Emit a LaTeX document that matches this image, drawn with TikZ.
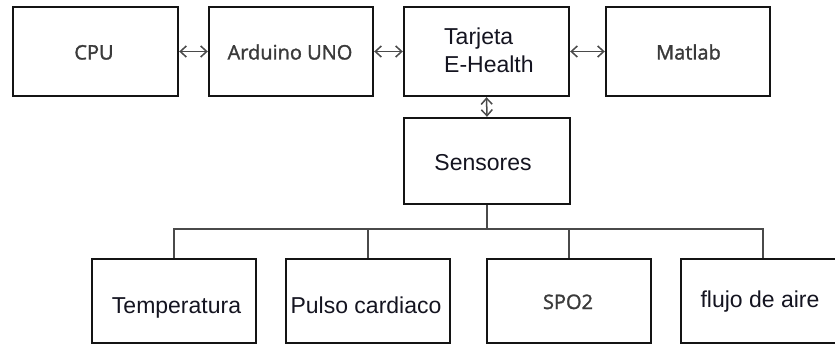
\documentclass[tikz,border=0pt]{standalone}
\usepackage{fontspec}
\setmainfont{Liberation Sans}
\newfontfamily\osans{Open Sans}[FakeBold=1.5]
\usetikzlibrary{arrows.meta}
\definecolor{boxline}{HTML}{141414}
\definecolor{conline}{HTML}{4A4A4A}
\definecolor{graytxt}{HTML}{3A3A3A}
\definecolor{darktxt}{HTML}{141420}
\begin{document}
\begin{tikzpicture}[x=1pt,y=-1pt,
  blk/.style={draw=boxline,line width=2.4pt,fill=white,inner sep=0pt,minimum width=164pt,minimum height=89pt},
  lowblk/.style={blk,minimum height=84pt},
  gtxt/.style={anchor=base,inner sep=0pt,text=graytxt,font=\osans\fontsize{20}{24}\selectfont},
  atxt/.style={anchor=base,inner sep=0pt,text=darktxt,font=\fontsize{23}{27}\selectfont},
  con/.style={draw=conline,line width=1.5pt},
  biarrow/.style={con,{Straight Barb[length=6pt,width=11pt,line width=1.5pt]}-{Straight Barb[length=6pt,width=11pt,line width=1.5pt]}}]
\useasboundingbox (0,0) rectangle (835,345);
% top row
\node[blk,minimum width=165pt] (cpu) at (95.5,51.5) {};
\node[blk] (ard) at (291,51.5) {};
\node[blk,minimum width=165pt] (tar) at (486.5,51.5) {};
\node[blk] (mat) at (688,51.5) {};
\node[blk,minimum width=166pt,minimum height=86pt] (sen) at (487,161) {};
% bottom row
\node[lowblk] (tem) at (174,301) {};
\node[lowblk] (pul) at (368,301) {};
\node[lowblk] (spo) at (569,301) {};
\node[lowblk] (flu) at (763,301) {};
% texts
\node[gtxt] (tcpu) at (94,59.5) {CPU};
\node[gtxt] (tard) at (290,59.5) {Arduino UNO};
\node[gtxt] (tmat) at (688.5,59.5) {Matlab};
\node[atxt,anchor=base west] (ttar1) at (444,45) {Tarjeta};
\node[atxt,anchor=base west] (ttar2) at (444,72) {E-Health};
\node[atxt] (tsen) at (483,170) {Sensores};
\node[atxt] (ttem) at (176.5,313) {Temperatura};
\node[atxt] (tpul) at (366,313) {Pulso cardiaco};
\node[gtxt] (tspo) at (568,309) {SPO2};
\node[atxt] (tflu) at (760,307) {flujo de aire};
% arrows
\draw[biarrow] (cpu.east) -- (ard.west);
\draw[biarrow] (ard.east) -- (tar.west);
\draw[biarrow] (tar.east) -- (mat.west);
\draw[biarrow] (tar.south) -- (sen.north);
% bus
\coordinate (bus) at (487,229);
\draw[con] (sen.south) -- (bus);
\draw[con] (tem.north) |- (bus) -| (flu.north);
\draw[con] (pul.north) -- (pul.north |- bus);
\draw[con] (spo.north) -- (spo.north |- bus);
\end{tikzpicture}
\end{document}
